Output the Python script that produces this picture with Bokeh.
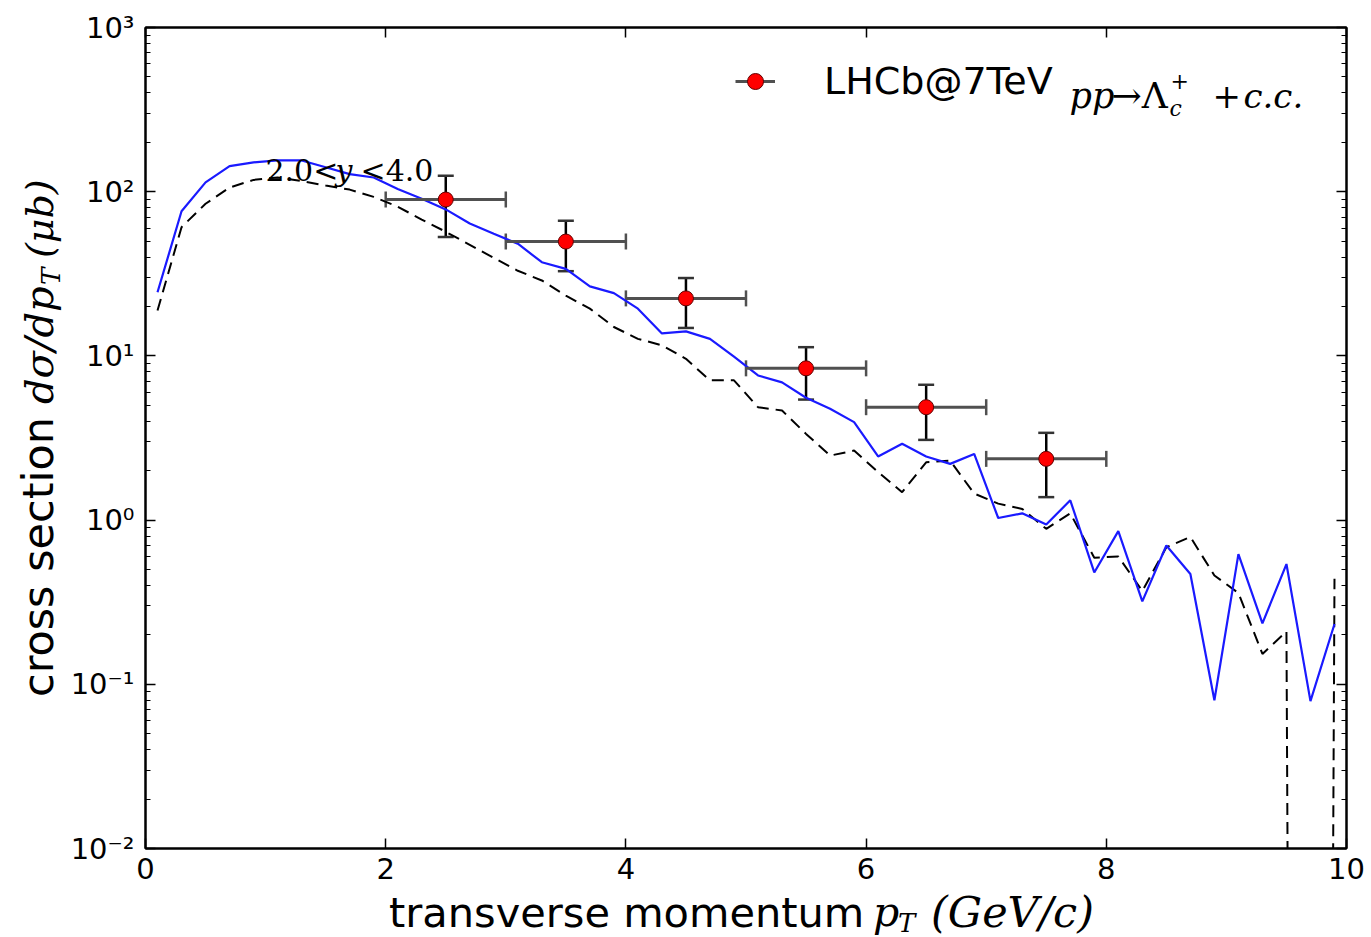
import numpy as np
from bokeh.plotting import figure
from bokeh.layouts import row, column
from bokeh.models import (FixedTicker, LogAxis, LinearAxis, Whisker, TeeHead, Label,
                          Legend, LegendItem, CustomJSTickFormatter, ColumnDataSource, Div)
from bokeh.embed import file_html
from bokeh.resources import INLINE

# ---------------- data ----------------
pt_grid = [0.1, 0.3, 0.5, 0.7, 0.9, 1.1, 1.3, 1.5, 1.7, 1.9,
           2.1, 2.3, 2.5, 2.7, 2.9, 3.1, 3.3, 3.5, 3.7, 3.9,
           4.1, 4.3, 4.5, 4.7, 4.9, 5.1, 5.3, 5.5, 5.7, 5.9,
           6.1, 6.3, 6.5, 6.7, 6.9, 7.1, 7.3, 7.5, 7.7, 7.9,
           8.1, 8.3, 8.5, 8.7, 8.9, 9.1, 9.3, 9.5, 9.7, 9.9]

model_solid = [24.4, 76, 114, 143, 151, 155, 155, 141, 128, 122,
               104, 90.6, 78, 64, 55.4, 48.2, 37.2, 33.9, 26.5, 24.1,
               19.4, 13.7, 14.1, 12.7, 9.9, 7.6, 6.9, 5.56, 4.76, 3.95,
               2.44, 2.92, 2.44, 2.2, 2.53, 1.03, 1.10, 0.94, 1.32, 0.48,
               0.857, 0.32, 0.70, 0.47, 0.080, 0.62, 0.235, 0.54, 0.079, 0.233]

model_dashed = [18.9, 60.8, 84.4, 106, 118, 122, 116, 109, 103, 93,
                81, 67.7, 57, 47.5, 39.5, 33, 28.8, 23.3, 19.4, 15,
                12.7, 11.6, 9.6, 7.1, 7.1, 4.87, 4.65, 3.35, 2.47, 2.65,
                1.96, 1.48, 2.25, 2.3, 1.45, 1.26, 1.17, 0.885, 1.10, 0.59,
                0.60, 0.37, 0.684, 0.79, 0.46, 0.36, 0.153, 0.21, 0.0, 0.44]

lhcb_pt = [2.5, 3.5, 4.5, 5.5, 6.5, 7.5]
lhcb_pt_err = [0.5, 0.5, 0.5, 0.5, 0.5, 0.5]
lhcb_xs = [89.6, 49.7, 22.4, 8.4, 4.87, 2.36]
lhcb_xs_hi = [125, 66.5, 29.8, 11.3, 6.67, 3.40]
lhcb_xs_lo = [53, 32.8, 14.8, 5.42, 3.08, 1.38]

x_ticks = [0, 2, 4, 6, 8, 10]
y_ticks = [1e-2, 1e-1, 1e0, 1e1, 1e2, 1e3]

# ---------------- page geometry ----------------
W, H = 1371, 937
YLAB_W = 62          # strip on the left holding the y-axis title
XLAB_H = 44          # strip at the bottom holding the x-axis title
FL, FR, FT, FB = 145, 25, 27, 89   # frame borders measured on the whole page

PW, PH = W - YLAB_W, H - XLAB_H
p = figure(width=PW, height=PH, x_range=(0, 10), y_range=(1e-2, 1e3),
           y_axis_type="log", output_backend="svg", toolbar_location=None,
           min_border_left=FL - YLAB_W, min_border_right=FR, min_border_top=FT,
           min_border_bottom=FB - XLAB_H, margin=0)
p.background_fill_color = "white"
p.border_fill_color = "white"
p.outline_line_color = "black"
p.outline_line_width = 2
p.xgrid.grid_line_color = None
p.ygrid.grid_line_color = None

y_minor = [m * 10.0 ** e for e in range(-2, 3) for m in range(2, 10)]
yticker = FixedTicker(ticks=y_ticks, minor_ticks=y_minor)
xticker = FixedTicker(ticks=x_ticks, minor_ticks=[])

sup_js = r"""
const e = Math.round(Math.log10(tick));
const m = {"-":"\u207b","0":"\u2070","1":"\u00b9","2":"\u00b2","3":"\u00b3",
           "4":"\u2074","5":"\u2075","6":"\u2076","7":"\u2077","8":"\u2078","9":"\u2079"};
return "10" + String(e).split("").map(c => m[c]).join("");
"""


def style_axis(ax, show_labels):
    ax.axis_line_width = 2
    ax.axis_line_color = "black"
    ax.major_tick_in = 10
    ax.major_tick_out = 0
    ax.minor_tick_in = 5
    ax.minor_tick_out = 0
    ax.major_tick_line_width = 1.5
    ax.minor_tick_line_width = 1.2
    ax.major_tick_line_color = "black"
    ax.minor_tick_line_color = "black"
    ax.major_label_text_font = "DejaVu Sans"
    ax.major_label_text_color = "black"
    ax.major_label_text_font_size = "29px"
    if not show_labels:
        ax.formatter = CustomJSTickFormatter(code="return '';")
        ax.major_label_standoff = 0


xa = p.xaxis[0]
xa.ticker = xticker
style_axis(xa, True)
xa.major_label_standoff = 9

ya = p.yaxis[0]
ya.ticker = yticker
ya.formatter = CustomJSTickFormatter(code=sup_js)
style_axis(ya, True)
ya.major_label_standoff = 11

ra = LogAxis(ticker=yticker)
style_axis(ra, False)
p.add_layout(ra, "right")

ta = LinearAxis(ticker=xticker)
style_axis(ta, False)
p.add_layout(ta, "above")

# ---------------- curves ----------------
# non-positive values are clipped to a tiny number on the log scale
dashed_plot = [v if v > 0 else 1e-30 for v in model_dashed]
p.line(pt_grid, dashed_plot, line_color="black", line_width=2, line_dash="12 7")
p.line(pt_grid, model_solid, line_color="#1a1aff", line_width=2.2)

# ---------------- data points ----------------
src = ColumnDataSource(dict(
    x=lhcb_pt, y=lhcb_xs,
    xl=[a - b for a, b in zip(lhcb_pt, lhcb_pt_err)],
    xh=[a + b for a, b in zip(lhcb_pt, lhcb_pt_err)],
    yl=lhcb_xs_lo, yh=lhcb_xs_hi))

hseg = p.segment(x0="xl", x1="xh", y0="y", y1="y", source=src,
                 line_color="#505050", line_width=3)
p.add_layout(Whisker(source=src, base="y", lower="xl", upper="xh", dimension="width",
                     line_alpha=0,
                     upper_head=TeeHead(size=16, line_color="#505050", line_width=2.5),
                     lower_head=TeeHead(size=16, line_color="#505050", line_width=2.5)))
p.add_layout(Whisker(source=src, base="x", lower="yl", upper="yh", dimension="height",
                     line_color="black", line_width=2.5,
                     upper_head=TeeHead(size=16, line_color="#333333", line_width=2.5),
                     lower_head=TeeHead(size=16, line_color="#333333", line_width=2.5)))
pts = p.scatter("x", "y", source=src, size=15, fill_color="red",
                line_color="#600000", line_width=1)

# ---------------- legend ----------------
frame_bottom = H - FB
legend = Legend(items=[LegendItem(label="LHCb@7TeV", renderers=[hseg, pts])],
                location=(735 - FL, frame_bottom - 106), padding=0, margin=0,
                glyph_width=40, glyph_height=50, label_height=50, label_standoff=49,
                label_text_font="DejaVu Sans", label_text_font_size="38px",
                label_text_color="black",
                border_line_alpha=0, background_fill_alpha=0)
p.add_layout(legend)


def lab(text, px, py, size, font="DejaVu Serif", style="normal"):
    p.add_layout(Label(x=px - FL, y=frame_bottom - py, x_units="screen", y_units="screen",
                       text=text, text_font=font, text_font_size=f"{size}px",
                       text_font_style=style, text_color="black",
                       text_align="left", text_baseline="alphabetic"))


# legend math part
lab("pp", 1069, 95, 35, style="italic")
lab("\u2192\u039b", 1111, 95, 36)
lab("+", 1170, 80, 22)
lab("c", 1169, 108, 22, style="italic")
lab("+", 1212, 95, 34)
lab("c.c.", 1243, 95, 34, style="italic")

# rapidity annotation
lab("2.0<", 265, 170, 30)
lab("y", 335, 170, 30, style="italic")
lab("<4.0", 360, 170, 30)

# ---------------- axis titles (mixed fonts, as HTML text) ----------------
ASC = 0.846   # baseline offset / font size for DejaVu with line-height = font size
DIV_DY = -10  # measured vertical offset of the content inside a Div


def piece(text, base_x, base_y, size, family, italic=False, rotate=False):
    """base_x, base_y: start of the baseline in the strip's own pixel coordinates."""
    base_y = base_y + DIV_DY
    if rotate:
        left, top = base_x - ASC * size, base_y
    else:
        left, top = base_x, base_y - ASC * size
    st = (f"position:absolute;left:{left:.1f}px;top:{top:.1f}px;"
          f"font-family:'{family}';font-size:{size}px;line-height:{size}px;"
          "white-space:nowrap;color:black;margin:0;padding:0;")
    if italic:
        st += "font-style:italic;"
    if rotate:
        st += "transform-origin:0 0;transform:rotate(-90deg);"
    return f'<div style="{st}">{text}</div>'


def strip(pieces):
    return ('<div style="position:relative;left:0;top:0;width:100%;height:100%;'
            'margin:0;padding:0;">' + "".join(pieces) + "</div>")


XT = H - XLAB_H   # page y of the top of the x strip
x_title = strip([
    piece("transverse momentum", 389, 925 - XT, 41.5, "DejaVu Sans"),
    piece("p", 873, 925 - XT, 41, "DejaVu Serif", italic=True),
    piece("T", 898, 930 - XT, 26, "DejaVu Serif", italic=True),
    piece("(GeV/c)", 931, 925 - XT, 43, "DejaVu Serif", italic=True),
])
y_title = strip([
    piece("cross section", 53, 695, 43, "DejaVu Sans", rotate=True),
    piece("d\u03c3/dp", 53, 402, 40, "DejaVu Serif", italic=True, rotate=True),
    piece("T", 60, 283, 26, "DejaVu Serif", italic=True, rotate=True),
    piece("(\u03bcb)", 53, 256, 38, "DejaVu Serif", italic=True, rotate=True),
])

ydiv = Div(text=y_title, width=YLAB_W, height=PH, margin=0,
           styles={"overflow": "visible"})
xdiv = Div(text=x_title, width=W, height=XLAB_H, margin=0,
           styles={"overflow": "visible"})

page = column(row(ydiv, p, spacing=0), xdiv, spacing=0)

open("out.html", "w").write(file_html(page, INLINE))
